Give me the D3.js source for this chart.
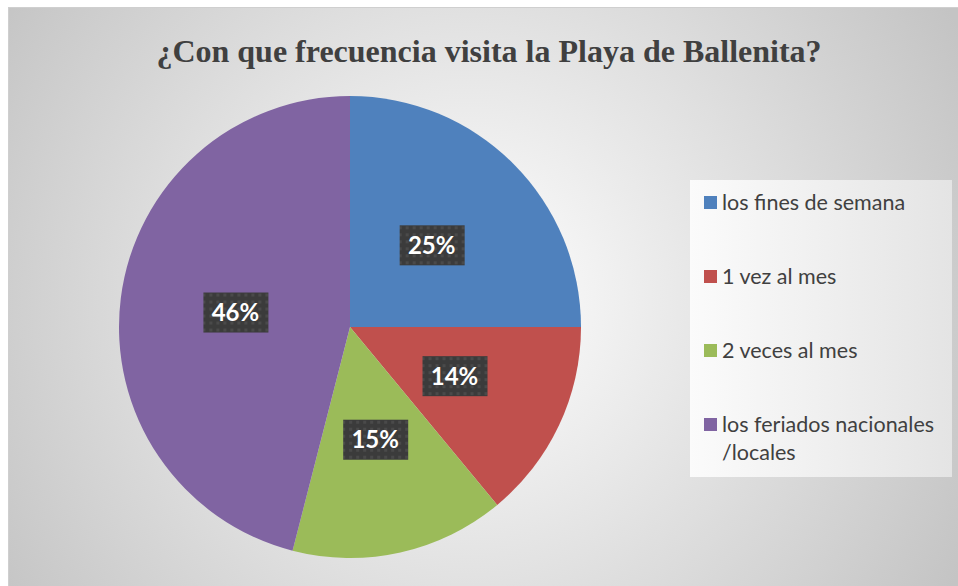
<!DOCTYPE html>
<html>
<head>
<meta charset="utf-8">
<script src="https://cdn.jsdelivr.net/npm/d3@7"></script>
<style>
  body { margin: 0; background: #fff; }
  svg { display: block; }
</style>
</head>
<body>
<svg id="canvas" width="958" height="586"></svg>
<script>
// data
let categories = ['los fines de semana', '1 vez al mes', '2 veces al mes', 'los feriados nacionales /locales']
let legendLines = [['los fines de semana'], ['1 vez al mes'], ['2 veces al mes'], ['los feriados nacionales', '/locales']]
let values = [25, 14, 15, 46]
let colors = ['#4F81BD', '#C0504D', '#9BBB59', '#8064A2']
let title = '¿Con que frecuencia visita la Playa de Ballenita?'

let width = 958
let height = 586
let cx = 350
let cy = 327
let radius = 231

let canvas = d3.select('#canvas')
let defs = canvas.append('defs')

// chart area background
let bg = defs.append('radialGradient').attr('id', 'bg')
    .attr('gradientUnits', 'userSpaceOnUse')
    .attr('cx', 470).attr('cy', 300).attr('r', 560)
bg.append('stop').attr('offset', '0%').attr('stop-color', '#ffffff')
bg.append('stop').attr('offset', '100%').attr('stop-color', '#c4c4c4')

let legendBg = defs.append('linearGradient').attr('id', 'legendBg')
    .attr('x1', 0).attr('y1', 0).attr('x2', 1).attr('y2', 0)
legendBg.append('stop').attr('offset', '0%').attr('stop-color', '#fbfbfb')
legendBg.append('stop').attr('offset', '100%').attr('stop-color', '#e4e4e4')

// dotted pattern for the label boxes
let pat = defs.append('pattern').attr('id', 'dots')
    .attr('patternUnits', 'userSpaceOnUse')
    .attr('width', 7).attr('height', 7)
pat.append('rect').attr('width', 7).attr('height', 7).attr('fill', '#3b3b3b')
pat.append('rect').attr('x', 2).attr('y', 2).attr('width', 3).attr('height', 3).attr('fill', '#4a4a4a')

canvas.append('rect')
    .attr('x', 8.5).attr('y', 7.5)
    .attr('width', width).attr('height', height)
    .attr('fill', 'url(#bg)')
    .attr('stroke', '#cfcfcf')

canvas.append('text')
    .attr('x', 489).attr('y', 62)
    .attr('text-anchor', 'middle')
    .attr('font-family', '"Liberation Serif", "Times New Roman", serif')
    .attr('font-weight', 'bold')
    .attr('font-size', 32)
    .attr('fill', '#404040')
    .text(title)

let pie = d3.pie().sort(null).value(d => d)
let arc = d3.arc().innerRadius(0).outerRadius(radius)
let arcs = pie(values)

let g = canvas.append('g').attr('transform', `translate(${cx},${cy})`)

g.selectAll('path')
    .data(arcs)
    .enter()
    .append('path')
    .attr('d', arc)
    .attr('fill', (d, i) => colors[i])

// percentage labels
let labels = g.selectAll('g.label')
    .data(arcs)
    .enter()
    .append('g')
    .attr('class', 'label')
    .attr('transform', d => `translate(${arc.centroid(d)})`)

labels.append('rect')
    .attr('x', -32).attr('y', -20)
    .attr('width', 65).attr('height', 40)
    .attr('fill', 'url(#dots)')

labels.append('text')
    .attr('text-anchor', 'middle')
    .attr('dy', 8.5)
    .attr('font-family', 'Lato, "Open Sans", sans-serif')
    .attr('font-weight', 'bold')
    .attr('font-size', 24)
    .attr('fill', '#ffffff')
    .text(d => Math.round(d.value / d3.sum(values) * 100) + '%')

// legend
let legend = canvas.append('g')
legend.append('rect')
    .attr('x', 690).attr('y', 180)
    .attr('width', 262).attr('height', 297)
    .attr('fill', 'url(#legendBg)')

let rowY = d3.scalePoint().domain(categories).range([203, 425])

let items = legend.selectAll('g.item')
    .data(categories)
    .enter()
    .append('g')
    .attr('class', 'item')
    .attr('transform', d => `translate(704,${rowY(d)})`)

items.append('rect')
    .attr('x', 0).attr('y', -7)
    .attr('width', 13).attr('height', 13)
    .attr('fill', (d, i) => colors[i])

items.append('text')
    .attr('x', 18)
    .attr('font-family', 'Lato, "Open Sans", sans-serif')
    .attr('font-size', 21.5)
    .attr('fill', '#404040')
    .selectAll('tspan')
    .data((d, i) => legendLines[i])
    .enter()
    .append('tspan')
    .attr('x', 18)
    .attr('dy', (d, j) => j === 0 ? 7 : 28)
    .text(d => d)
</script>
</body>
</html>
